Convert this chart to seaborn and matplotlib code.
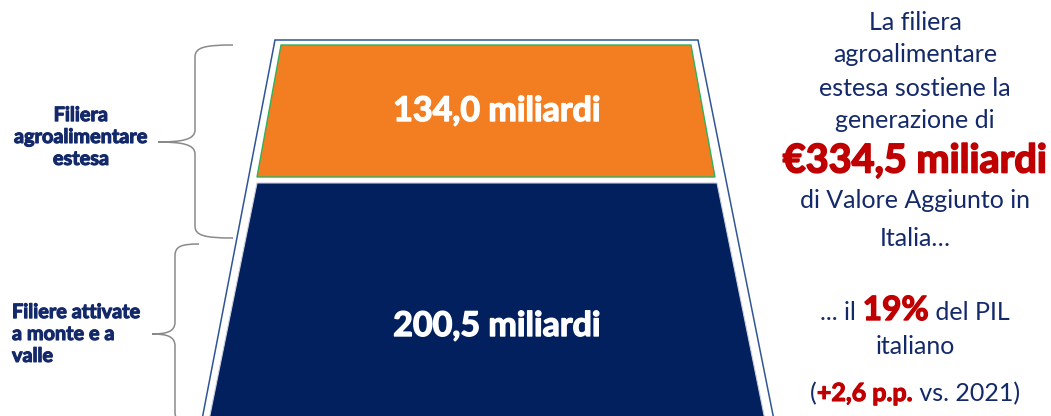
import matplotlib
matplotlib.use("Agg")
import matplotlib.pyplot as plt
import matplotlib.patheffects as pe
import seaborn as sns
from matplotlib.path import Path
from matplotlib.patches import PathPatch, Polygon

# ---- data ----
segment_names = ["Filiera\nagroalimentare\nestesa", "Filiere attivate\na monte e a\nvalle"]
segment_values = [134.0, 200.5]
segment_labels = ["134,0 miliardi", "200,5 miliardi"]
total_label = "€334,5 miliardi"
pil_share_label = "19%"
pp_change_label = "+2,6 p.p."

sns.set_theme(style="white")
plt.rcParams['font.family'] = ['Lato', 'DejaVu Sans']

NAVY = "#021F5E"
ORANGE = "#F37E22"
TXT = "#14296A"
RED = "#C00000"
W, H = 1051, 416

fig = plt.figure(figsize=(W / 100, H / 100), dpi=100)
ax = fig.add_axes([0, 0, 1, 1])
ax.set_xlim(0, W)
ax.set_ylim(H, 0)
ax.axis("off")


def thick(color, lw=0.9):
    return [pe.withStroke(linewidth=lw, foreground=color)]


# outer funnel outline
ax.add_patch(Polygon([(275, 40), (698, 40), (776, 430), (200, 430)], closed=True,
                     facecolor="white", edgecolor="#2F5597", lw=1.1))
# segments
ax.add_patch(Polygon([(281, 45), (691, 45), (715, 177), (257, 177)], closed=True,
                     facecolor=ORANGE, edgecolor="#2DB35A", lw=1.0))
ax.add_patch(Polygon([(257, 183), (717, 183), (766, 425), (208, 425)], closed=True,
                     facecolor=NAVY, edgecolor="#C9CFDB", lw=0.8))

for y, lab in zip([111, 326], segment_labels):
    ax.text(497, y, lab, color="white", fontsize=24.5, fontweight="bold",
            ha="center", va="center", path_effects=thick("white", 1.0))


def brace(x_end, x_line, x_tip, y0, y1, ytip, r=12):
    verts = [(x_end, y0),
             (x_line + (x_end - x_line) * 0.25, y0), (x_line, y0 + r * 0.2), (x_line, y0 + r),
             (x_line, ytip - r),
             (x_line, ytip - r * 0.2), (x_line - (x_line - x_tip) * 0.35, ytip), (x_tip, ytip),
             (x_line - (x_line - x_tip) * 0.35, ytip), (x_line, ytip + r * 0.2), (x_line, ytip + r),
             (x_line, y1 - r),
             (x_line, y1 - r * 0.2), (x_line + (x_end - x_line) * 0.25, y1), (x_end, y1)]
    codes = [Path.MOVETO,
             Path.CURVE4, Path.CURVE4, Path.CURVE4,
             Path.LINETO,
             Path.CURVE4, Path.CURVE4, Path.CURVE4,
             Path.CURVE4, Path.CURVE4, Path.CURVE4,
             Path.LINETO,
             Path.CURVE4, Path.CURVE4, Path.CURVE4]
    ax.add_patch(PathPatch(Path(verts, codes), facecolor="none", edgecolor="#8A8A8A", lw=1.1))


brace(233, 195, 158, 45, 238, 142)
brace(199, 175, 152, 244, 424, 334)

ax.text(81, 137, segment_names[0], color=TXT, fontsize=14.3, fontweight="bold",
        ha="center", va="center", multialignment="center", linespacing=1.12,
        path_effects=thick(TXT, 0.8))
ax.text(12, 334, segment_names[1], color=TXT, fontsize=14.3, fontweight="bold",
        ha="left", va="center", multialignment="left", linespacing=1.12,
        path_effects=thick(TXT, 0.8))

# right-hand text
CX = 915
FS = 18
plain = ["La filiera", "agroalimentare", "estesa sostiene la", "generazione di"]
for i, s in enumerate(plain):
    ax.text(CX, 22 + 33 * i, s, color=TXT, fontsize=FS, ha="center", va="center")
ax.text(CX, 161, total_label, color=RED, fontsize=28.5, fontweight="bold", ha="center",
        va="center", path_effects=thick(RED, 1.2))
ax.text(CX, 201, "di Valore Aggiunto in", color=TXT, fontsize=FS, ha="center", va="center")
ax.text(CX, 238, "Italia…", color=TXT, fontsize=FS, ha="center", va="center")
ax.text(CX, 347, "italiano", color=TXT, fontsize=FS, ha="center", va="center")

renderer = fig.canvas.get_renderer()


def mixed_line(y, parts):
    texts = []
    for s, kw in parts:
        t = ax.text(0, y, s, ha="left", va="baseline", **kw)
        texts.append(t)
    widths = [t.get_window_extent(renderer).width for t in texts]
    x = CX - sum(widths) / 2
    for t, w in zip(texts, widths):
        t.set_x(x)
        x += w


reg = dict(color=TXT, fontsize=FS)
mixed_line(320, [("... il ", reg),
                 (pil_share_label, dict(color=RED, fontsize=24, fontweight="bold",
                                        path_effects=thick(RED, 1.0))),
                 (" del PIL", reg)])
mixed_line(401, [("(", reg),
                 (pp_change_label, dict(color=RED, fontsize=FS, fontweight="bold",
                                        path_effects=thick(RED, 0.8))),
                 (" vs. 2021)", reg)])

fig.savefig("out.png", dpi=100)
